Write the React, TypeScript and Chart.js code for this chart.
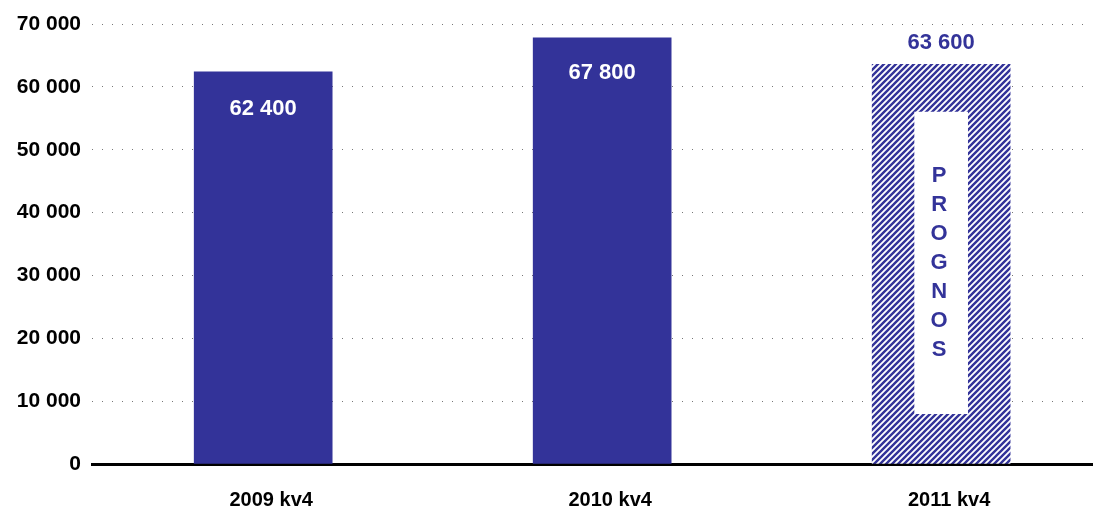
import React, { useEffect, useRef } from "react";
import { Chart, registerables } from "chart.js";

Chart.register(...registerables);

const categories = ["2009 kv4", "2010 kv4", "2011 kv4"];
const values = [62400, 67800, 63600];
const valueLabels = ["62 400", "67 800", "63 600"];
const forecastBox = [8000, 56000];
const forecastWord = ["P", "R", "O", "G", "N", "O", "S"];
const yMin = 0;
const yMax = 70000;
const yStep = 10000;

const BLUE = "#333399";
const FONT = '"Liberation Sans", Arial, sans-serif';

function fmt(v: number): string {
  return String(v).replace(/\B(?=(\d{3})+(?!\d))/g, " ");
}

function makeHatch(): CanvasPattern | string {
  const c = document.createElement("canvas");
  c.width = 6;
  c.height = 6;
  const g = c.getContext("2d");
  if (!g) return BLUE;
  g.fillStyle = "#ffffff";
  g.fillRect(0, 0, 6, 6);
  g.strokeStyle = BLUE;
  g.lineWidth = 2.4;
  g.beginPath();
  g.moveTo(-1, 7);
  g.lineTo(7, -1);
  g.moveTo(-1, 1);
  g.lineTo(1, -1);
  g.moveTo(5, 7);
  g.lineTo(7, 5);
  g.stroke();
  const p = g.createPattern(c, "repeat");
  return p || BLUE;
}

const labelPlugin = {
  id: "labelPlugin",
  afterDatasetsDraw(chart: any) {
    const ctx = chart.ctx;
    const bars = chart.getDatasetMeta(1).data;
    ctx.save();
    ctx.font = `bold 22px ${FONT}`;
    ctx.textAlign = "center";
    ctx.textBaseline = "middle";
    bars.forEach((el: any, i: number) => {
      if (i < 2) {
        ctx.fillStyle = "#ffffff";
        ctx.fillText(valueLabels[i], el.x, el.y + (i === 0 ? 37 : 35));
      } else {
        ctx.fillStyle = BLUE;
        ctx.fillText(valueLabels[i], el.x, el.y - 21);
      }
    });
    const box = chart.getDatasetMeta(0).data[0];
    if (box) {
      ctx.fillStyle = BLUE;
      forecastWord.forEach((ch, i) => {
        ctx.fillText(ch, box.x - 2, box.y + 64 + i * 29);
      });
    }
    ctx.restore();
  },
};

export default function App() {
  const ref = useRef<HTMLCanvasElement | null>(null);
  useEffect(() => {
    document.body.style.margin = "0";
    const canvas = ref.current;
    if (!canvas) return;
    const hatch = makeHatch();
    const chart = new Chart(canvas, {
      type: "bar",
      data: {
        datasets: [
          {
            data: [{ x: 2, y: forecastBox }] as any,
            backgroundColor: "#ffffff",
            grouped: false,
            categoryPercentage: 1,
            barPercentage: 1,
            maxBarThickness: 53,
          },
          {
            data: values.map((v, i) => ({ x: i, y: v })) as any,
            backgroundColor: [BLUE, BLUE, hatch] as any,
            grouped: false,
            categoryPercentage: 1,
            barPercentage: 1,
            maxBarThickness: 138,
          },
        ],
      },
      plugins: [labelPlugin],
      options: {
        responsive: false,
        animation: false,
        devicePixelRatio: 1,
        layout: { padding: { top: 24, right: 6, left: 0, bottom: 0 } },
        plugins: { legend: { display: false }, tooltip: { enabled: false } },
        scales: {
          x: {
            type: "linear",
            offset: false,
            min: -0.505,
            max: 2.445,
            grid: { display: false, drawTicks: false, offset: false },
            border: { display: true, color: "#000000", width: 3 },
            afterFit: (s: any) => {
              s.height = 46;
            },
            ticks: {
              stepSize: 1,
              autoSkip: false,
              maxRotation: 0,
              includeBounds: false,
              padding: 24,
              labelOffset: 8,
              color: "#000000",
              font: { family: FONT, size: 20, weight: "bold" },
              callback: (v: any) =>
                Number.isInteger(v) && categories[v] !== undefined ? categories[v] : "",
            },
          } as any,
          y: {
            min: yMin,
            max: yMax,
            grid: { color: "#777777", lineWidth: 1, drawTicks: false },
            border: { display: false, dash: [1, 9] },
            afterFit: (s: any) => {
              s.width = 92;
            },
            ticks: {
              stepSize: yStep,
              padding: 11,
              color: "#000000",
              font: { family: FONT, size: 21, weight: "bold" },
              callback: (v: any) => fmt(Number(v)),
            },
          } as any,
        },
      },
    });
    return () => chart.destroy();
  }, []);
  return (
    <div style={{ width: 1098, height: 510, overflow: "hidden" }}>
      <canvas ref={ref} width={1098} height={510} />
    </div>
  );
}
